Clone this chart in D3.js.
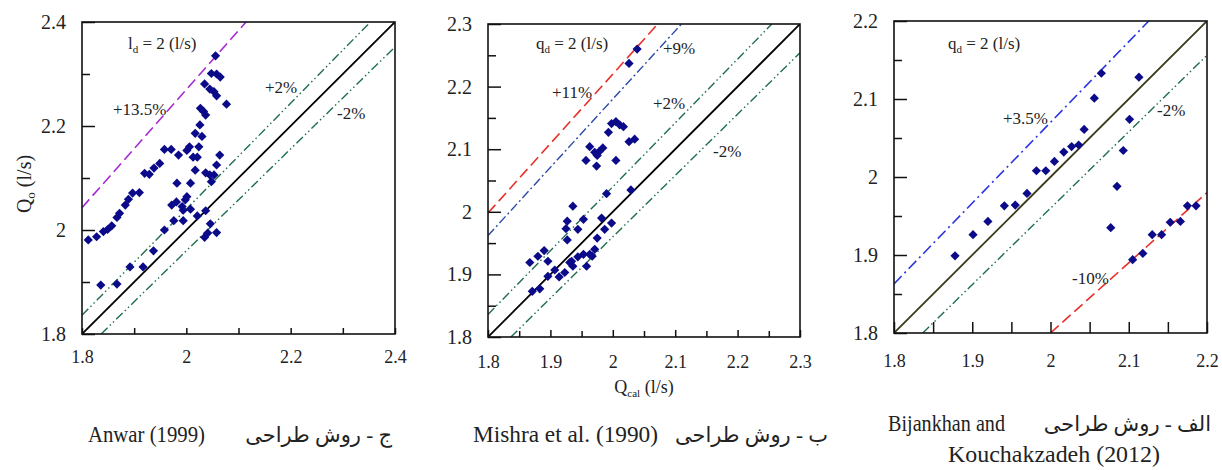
<!DOCTYPE html>
<html><head><meta charset="utf-8">
<script src="https://cdn.jsdelivr.net/npm/d3@7"></script>
<style>
body{margin:0;background:#fff}
svg{display:block}
text{font-family:"Liberation Serif","Times New Roman","DejaVu Sans",serif;fill:#222}
</style>
</head><body><svg id="c" width="1222" height="470"></svg>
<script>
// ---------- DATA ----------
const anwarCal = [1.812,1.828,1.841,1.849,1.857,1.867,1.872,1.883,1.889,1.897,1.910,1.920,1.929,1.938,1.949,
  1.958,1.971,1.985,2.001,2.006,2.024,2.013,2.021,2.017,2.017,2.030,2.026,2.027,2.033,2.037,2.035,2.048,2.058,2.065,
  2.045,2.053,2.058,2.077,2.056,2.037,2.045,2.053,2.048,2.058,2.064,1.982,2.008,1.972,1.981,1.992,1.998,2.001,1.994,
  2.008,1.976,1.994,2.021,2.037,1.958,1.937,1.917,1.892,1.867,1.836,2.035,2.046,2.058,2.041];
const anwarObs = [1.981,1.987,1.997,2.001,2.008,2.024,2.032,2.048,2.059,2.071,2.072,2.109,2.107,2.119,2.128,
  2.155,2.155,2.144,2.153,2.160,2.160,2.140,2.140,2.115,2.186,2.180,2.202,2.234,2.228,2.221,2.281,2.301,2.300,2.294,
  2.271,2.266,2.258,2.242,2.335,2.110,2.106,2.106,2.093,2.125,2.144,2.090,2.090,2.048,2.054,2.045,2.058,2.064,2.038,
  2.040,2.018,2.018,2.027,2.037,2.000,1.960,1.929,1.929,1.896,1.894,1.986,2.012,1.995,1.994];

const mishraCal = [2.039,2.026,1.998,2.005,2.011,2.017,1.993,2.026,2.035,1.984,1.978,1.971,1.963,1.975,1.957,1.974,
  2.005,2.029,1.990,1.936,1.927,1.925,1.953,1.944,1.982,1.987,1.998,1.927,1.975,1.867,1.880,1.890,1.896,1.896,1.907,
  1.914,1.923,1.931,1.936,1.944,1.953,1.958,1.963,1.971,1.967,1.934,1.871,1.883];
const mishraObs = [2.260,2.237,2.141,2.144,2.139,2.136,2.127,2.112,2.116,2.102,2.096,2.095,2.104,2.090,2.082,2.073,
  2.082,2.035,2.029,2.009,1.985,1.973,1.988,1.972,1.990,1.972,1.982,1.955,1.958,1.919,1.929,1.938,1.921,1.897,1.907,
  1.896,1.903,1.919,1.913,1.928,1.932,1.913,1.932,1.940,1.929,1.921,1.873,1.877];

const bijCal = [1.878,1.901,1.920,1.941,1.955,1.970,1.982,1.994,2.005,2.017,2.027,2.036,2.043,2.056,2.065,2.113,
  2.101,2.093,2.085,2.077,2.105,2.118,2.130,2.142,2.153,2.166,2.175,2.186];
const bijObs = [1.899,1.926,1.943,1.963,1.964,1.979,2.008,2.008,2.020,2.032,2.039,2.041,2.061,2.101,2.133,2.128,
  2.074,2.034,1.988,1.935,1.894,1.902,1.926,1.926,1.942,1.943,1.963,1.963];

const anwarDomain = [1.8, 2.4];
const mishraDomain = [1.8, 2.3];
const bijDomain = [1.8, 2.2];

const anwarMajor = [1.8, 2.0, 2.2, 2.4];
const anwarMajorLabels = ["1.8", "2", "2.2", "2.4"];
const anwarMinor = [1.9, 2.1, 2.3];
const mishraMajor = [1.8, 1.9, 2.0, 2.1, 2.2, 2.3];
const mishraMajorLabels = ["1.8", "1.9", "2", "2.1", "2.2", "2.3"];
const mishraMinor = [1.85, 1.95, 2.05, 2.15, 2.25];
const bijMajor = [1.8, 1.9, 2.0, 2.1, 2.2];
const bijMajorLabels = ["1.8", "1.9", "2", "2.1", "2.2"];
const bijMinor = [1.85, 1.95, 2.05, 2.15];

// reference lines: ratio Qo/Qcal
const anwarRatios = [1.0, 1.02, 0.98, 1.135];
const anwarRatioLabels = ["", "+2%", "-2%", "+13.5%"];
const mishraRatios = [1.0, 1.02, 0.98, 1.09, 1.11];
const mishraRatioLabels = ["", "+2%", "-2%", "+9%", "+11%"];
const bijRatios = [1.0, 0.98, 1.035, 0.90];
const bijRatioLabels = ["", "-2%", "+3.5%", "-10%"];

// ---------- STYLES / LAYOUT ----------
const lineStyles = {
  "1":     {stroke:"#000", width:1.8, dash:null},
  "1.02":  {stroke:"#1e6e4e", width:1.4, dash:"9,3,1.5,3,1.5,3"},
  "0.98":  {stroke:"#1e6e4e", width:1.4, dash:"9,3,1.5,3,1.5,3"},
  "1.135": {stroke:"#a52ad0", width:1.6, dash:"11,5"},
  "1.09":  {stroke:"#2a4aa8", width:1.4, dash:"9,3,2,3"},
  "1.11":  {stroke:"#e8302a", width:1.6, dash:"11,5"},
  "1.035": {stroke:"#2a35e0", width:1.6, dash:"11,4,2,4"},
  "0.9":   {stroke:"#e8302a", width:1.6, dash:"11,5"}
};

const panels = [
  {cal:anwarCal, obs:anwarObs, dom:anwarDomain, major:anwarMajor, majorLabels:anwarMajorLabels, minor:anwarMinor,
   ratios:anwarRatios, ratioLabels:anwarRatioLabels,
   box:{l:82,r:395,t:22,b:334}, xLabOff:23, botMajor:6, botMinor:6, identity:"#000",
   labelPos:[null,[265,93],[337,119],[113,115]],
   qd:{sym:"l", x:128, y:49}},
  {cal:mishraCal, obs:mishraObs, dom:mishraDomain, major:mishraMajor, majorLabels:mishraMajorLabels, minor:mishraMinor,
   ratios:mishraRatios, ratioLabels:mishraRatioLabels,
   box:{l:488,r:800,t:24,b:337}, xLabOff:25, botMajor:7, botMinor:6, identity:"#000",
   labelPos:[null,[653,109],[713,157],[663,54],[552,98]],
   qd:{sym:"q", x:536, y:49}},
  {cal:bijCal, obs:bijObs, dom:bijDomain, major:bijMajor, majorLabels:bijMajorLabels, minor:bijMinor,
   ratios:bijRatios, ratioLabels:bijRatioLabels,
   box:{l:894,r:1207,t:21,b:333}, xLabOff:28, botMajor:11, botMinor:11, identity:"#3b3a1c",
   labelPos:[null,[1157,116],[1003,124],[1072,284]],
   qd:{sym:"q", x:948, y:49}}
];

const svg = d3.select("#c");
svg.append("rect").attr("width",1222).attr("height",470).attr("fill","#fff");

panels.forEach((p, pi) => {
  const x = d3.scaleLinear().domain(p.dom).range([p.box.l, p.box.r]);
  const y = d3.scaleLinear().domain(p.dom).range([p.box.b, p.box.t]);
  const g = svg.append("g");

  // reference lines
  const clip = "clip" + pi;
  svg.append("clipPath").attr("id", clip).append("rect")
    .attr("x", p.box.l).attr("y", p.box.t).attr("width", p.box.r - p.box.l).attr("height", p.box.b - p.box.t);
  const lg = g.append("g").attr("clip-path", `url(#${clip})`);
  p.ratios.forEach((r) => {
    const [d0, d1] = p.dom;
    const xa = Math.max(d0, d0 / r), xb = Math.min(d1, d1 / r);
    const st = lineStyles[String(r)];
    lg.append("path")
      .attr("d", d3.line().x(d => x(d[0])).y(d => y(d[1]))([[xa, r * xa], [xb, r * xb]]))
      .attr("fill", "none")
      .attr("stroke", r === 1 ? p.identity : st.stroke)
      .attr("stroke-width", st.width)
      .attr("stroke-dasharray", st.dash);
  });

  // axes
  const fmt = (v) => p.majorLabels[p.major.indexOf(v)];
  const ax = g.append("g").attr("transform", `translate(0,${p.box.b})`)
    .call(d3.axisBottom(x).tickValues(p.major).tickSizeInner(-p.botMajor).tickSizeOuter(0).tickPadding(p.xLabOff - 6).tickFormat(fmt));
  ax.select(".domain").remove();
  ax.selectAll("text").attr("font-size", 18).attr("dy", "0.32em").attr("y", p.xLabOff).style("font-family", '"Liberation Serif",serif').attr("fill","#222");
  const axm = g.append("g").attr("transform", `translate(0,${p.box.b})`)
    .call(d3.axisBottom(x).tickValues(p.minor).tickSizeInner(-p.botMinor).tickSizeOuter(0).tickFormat(""));
  axm.select(".domain").remove();

  const ay = g.append("g").attr("transform", `translate(${p.box.l},0)`)
    .call(d3.axisLeft(y).tickValues(p.major).tickSizeInner(-13).tickSizeOuter(0).tickPadding(16).tickFormat(fmt));
  ay.select(".domain").remove();
  ay.selectAll("text").attr("font-size", 20).style("font-family", '"Liberation Serif",serif').attr("fill","#222");
  const aym = g.append("g").attr("transform", `translate(${p.box.l},0)`)
    .call(d3.axisLeft(y).tickValues(p.minor).tickSizeInner(-8).tickSizeOuter(0).tickFormat(""));
  aym.select(".domain").remove();
  g.selectAll(".tick line").attr("stroke", "#111").attr("stroke-width", 1.5);

  // frame
  g.append("rect").attr("x", p.box.l).attr("y", p.box.t)
    .attr("width", p.box.r - p.box.l).attr("height", p.box.b - p.box.t)
    .attr("fill", "none").attr("stroke", "#111").attr("stroke-width", 1.6);

  // points
  const pts = p.cal.map((c, i) => [c, p.obs[i]]);
  const R = 4.6;
  g.append("g").selectAll("path").data(pts).join("path")
    .attr("transform", d => `translate(${x(d[0])},${y(d[1])})`)
    .attr("d", `M0,${-R}L${R},0L0,${R}L${-R},0Z`)
    .attr("fill", "#0b0b8a");

  // ratio labels
  p.ratioLabels.forEach((t, i) => {
    if (!t) return;
    const pos = p.labelPos[i];
    g.append("text").attr("x", pos[0]).attr("y", pos[1]).attr("font-size", 17).text(t);
  });

  // qd label
  const q = g.append("text").attr("x", p.qd.x).attr("y", p.qd.y).attr("font-size", 17);
  q.append("tspan").text(p.qd.sym);
  q.append("tspan").attr("font-size", 11).attr("dy", 4).text("d");
  q.append("tspan").attr("dy", -4).text(" = 2 (l/s)");
});

// axis titles
const yt = svg.append("text").attr("transform", "translate(31,184) rotate(-90)")
  .attr("text-anchor", "middle").attr("font-size", 20);
yt.append("tspan").text("Q");
yt.append("tspan").attr("font-size", 13).attr("dy", 4).text("o");
yt.append("tspan").attr("dy", -4).text(" (l/s)");

const xt = svg.append("text").attr("x", 644).attr("y", 393).attr("text-anchor", "middle").attr("font-size", 18);
xt.append("tspan").text("Q");
xt.append("tspan").attr("font-size", 11).attr("dy", 4).text("cal");
xt.append("tspan").attr("dy", -4).text(" (l/s)");

// captions
const capLatin = [
  {t:"Anwar (1999)", x:88, y:442, w:117},
  {t:"Mishra et al. (1990)", x:473, y:442, w:185},
  {t:"Bijankhan and", x:888, y:431, w:117},
  {t:"Kouchakzadeh (2012)", x:948, y:462, w:212}
];
const capArabic = [
  {t:"ج - روش طراحی", x:392, y:442},
  {t:"ب - روش طراحی", x:828, y:442},
  {t:"الف - روش طراحی", x:1211, y:431}
];
capLatin.forEach(c => svg.append("text").attr("x", c.x).attr("y", c.y).attr("font-size", 23)
  .attr("textLength", c.w).attr("lengthAdjust", "spacingAndGlyphs").text(c.t));
capArabic.forEach(c => svg.append("text").attr("x", c.x).attr("y", c.y).attr("font-size", 21)
  .attr("direction", "rtl").attr("text-anchor", "start").text(c.t));
</script></body></html>
